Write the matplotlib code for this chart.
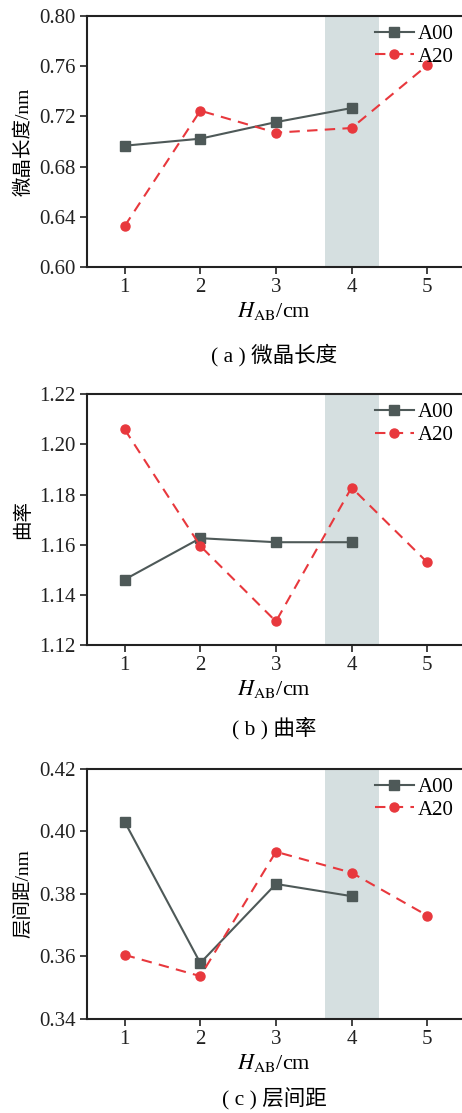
import matplotlib
matplotlib.use("Agg")
import matplotlib.pyplot as plt

plt.rcParams['font.family'] = ['Liberation Serif', 'Noto Sans CJK SC', 'DejaVu Sans']
plt.rcParams['mathtext.fontset'] = 'stix'

x_a00 = [1, 2, 3, 4]
x_a20 = [1, 2, 3, 4, 5]
xticks = [1, 2, 3, 4, 5]

length_a00 = [0.6967, 0.7023, 0.7155, 0.7267]
length_a20 = [0.6327, 0.7246, 0.7071, 0.7108, 0.7607]
curv_a00 = [1.1461, 1.1626, 1.1610, 1.1610]
curv_a20 = [1.2060, 1.1595, 1.1294, 1.1828, 1.1530]
spacing_a00 = [0.4031, 0.3579, 0.3832, 0.3793]
spacing_a20 = [0.3605, 0.3537, 0.3935, 0.3868, 0.3731]

panels = [
    dict(a00=length_a00, a20=length_a20, ylim=(0.60, 0.80), yticks=[0.60, 0.64, 0.68, 0.72, 0.76, 0.80],
         fmt='%.2f', ylabel='微晶长度/nm', caption='( a ) 微晶长度', cap_y=-0.35,
         rect=[0.188, 0.760, 0.812, 0.2256]),
    dict(a00=curv_a00, a20=curv_a20, ylim=(1.12, 1.22), yticks=[1.12, 1.14, 1.16, 1.18, 1.20, 1.22],
         fmt='%.2f', ylabel='曲率', caption='( b ) 曲率', cap_y=-0.33,
         rect=[0.188, 0.4205, 0.812, 0.2252]),
    dict(a00=spacing_a00, a20=spacing_a20, ylim=(0.34, 0.42), yticks=[0.34, 0.36, 0.38, 0.40, 0.42],
         fmt='%.2f', ylabel='层间距/nm', caption='( c ) 层间距', cap_y=-0.32,
         rect=[0.188, 0.0845, 0.812, 0.2246]),
]

fig = plt.figure(figsize=(4.62, 11.13), dpi=100)
gray = '#4e5958'
red = '#e8383d'

for p in panels:
    ax = fig.add_axes(p['rect'])
    ax.axvspan(3.645, 4.36, color='#d5dfe0', zorder=0, lw=0)
    ax.plot(x_a00, p['a00'], '-', color=gray, marker='s', ms=6.5, lw=1.5, label='A00', zorder=3)
    ax.plot(x_a20, p['a20'], '--', color=red, marker='o', ms=6.5, lw=1.5, dashes=(5, 3.5), label='A20', zorder=3)
    ax.set_xlim(0.5, 5.46)
    ax.set_ylim(*p['ylim'])
    ax.set_xticks(xticks)
    ax.set_yticks(p['yticks'])
    ax.set_yticklabels([p['fmt'] % v for v in p['yticks']])
    ax.spines['right'].set_visible(False)
    for s in ['left', 'bottom', 'top']:
        ax.spines[s].set_linewidth(1.5)
        ax.spines[s].set_color('#222222')
    ax.tick_params(direction='out', length=5, width=1.2, labelsize=15, colors='#222222', pad=3)
    ax.set_ylabel(p['ylabel'], fontsize=14, labelpad=5)
    ax.set_xlabel(r'$H_{\mathrm{AB}}$/cm', fontsize=16, labelpad=2)
    ax.legend(loc='upper right', frameon=False, fontsize=15, handlelength=1.85,
              handletextpad=0.2, borderaxespad=0.1, labelspacing=0.15,
              borderpad=0.3, bbox_to_anchor=(1.0, 1.0))
    ax.text(0.5, p['cap_y'], p['caption'], transform=ax.transAxes, ha='center', va='center', fontsize=15.5)

fig.savefig('out.png', dpi=100)
